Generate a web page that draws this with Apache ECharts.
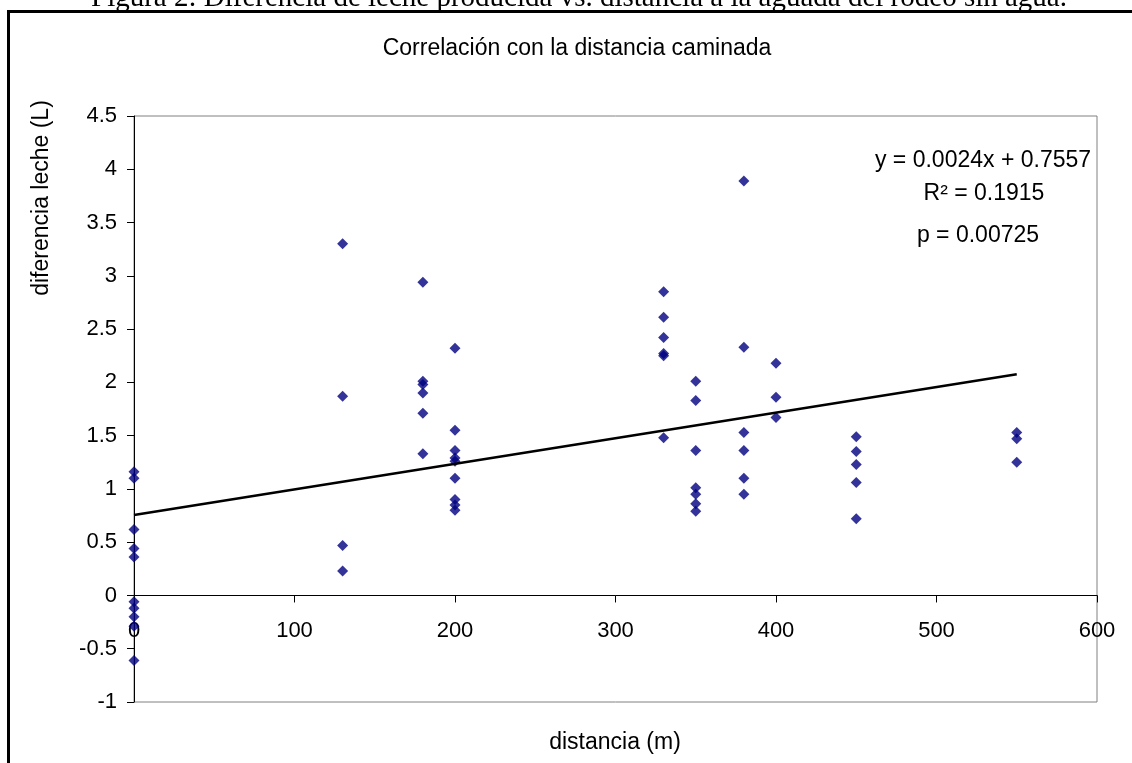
<!DOCTYPE html>
<html>
<head>
<meta charset="utf-8">
<script src="https://cdn.jsdelivr.net/npm/echarts@6/dist/echarts.min.js"></script>
<style>
html,body{margin:0;padding:0;background:#fff;}
#chart{width:1132px;height:763px;}
</style>
</head>
<body>
<div id="chart"></div>
<script>
// ---- data ----
const distancia = [
  0,0,0,0,0,0,0,0,0,0,
  130,130,130,130,
  180,180,180,180,180,180,
  200,200,200,200,200,200,200,200,200,
  330,330,330,330,330,330,
  350,350,350,350,350,350,350,
  380,380,380,380,380,380,
  400,400,400,
  450,450,450,450,450,
  550,550,550
];
const diferencia = [
  1.16,1.10,0.62,0.44,0.36,-0.06,-0.12,-0.20,-0.29,-0.61,
  3.30,1.87,0.47,0.23,
  2.94,2.01,1.98,1.90,1.71,1.33,
  2.32,1.55,1.36,1.29,1.26,1.10,0.90,0.85,0.80,
  2.85,2.61,2.42,2.27,2.25,1.48,
  2.01,1.83,1.36,1.01,0.95,0.86,0.79,
  3.89,2.33,1.53,1.36,1.10,0.95,
  2.18,1.86,1.67,
  1.49,1.35,1.23,1.06,0.72,
  1.53,1.47,1.25
];
const trendX = [0, 550];
const trendY = [0.7557, 2.0757];
const caption = "Figura 2: Diferencia de leche producida vs. distancia a la aguada del rodeo sin agua.";
const chartTitle = "Correlación con la distancia caminada";
const xTitle = "distancia (m)";
const yTitle = "diferencia leche (L)";
const eqLines = ["y = 0.0024x + 0.7557", "R\u00B2 = 0.1915", "p = 0.00725"];

const points = distancia.map((d, i) => [d, diferencia[i]]);
const trend = trendX.map((x, i) => [x, trendY[i]]);

const FONT = '"Liberation Sans", Arial, sans-serif';
const Y_MIN = -1, Y_MAX = 4.5;
const GRID = {left: 134, right: 35, top: 116, bottom: 61};
const plotH = 763 - GRID.top - GRID.bottom;
// move the x axis (line, ticks, labels) up to y = 0, as in the reference
const xOffset = -plotH * (0 - Y_MIN) / (Y_MAX - Y_MIN);

const chart = echarts.init(document.getElementById('chart'), null, {renderer: 'canvas'});
chart.setOption({
  animation: false,
  backgroundColor: '#ffffff',
  grid: Object.assign({
    show: true, borderColor: '#808080', borderWidth: 1, backgroundColor: 'transparent'
  }, GRID),
  xAxis: {
    type: 'value', min: 0, max: 600, interval: 100, position: 'bottom', offset: xOffset,
    axisLine: {show: true, onZero: false, lineStyle: {color: '#000', width: 1}},
    axisTick: {show: true, length: 7, lineStyle: {color: '#000'}},
    axisLabel: {color: '#000', fontFamily: FONT, fontSize: 22, margin: 24},
    splitLine: {show: false}
  },
  yAxis: {
    type: 'value', min: Y_MIN, max: Y_MAX, interval: 0.5,
    axisLine: {show: true, onZero: false, lineStyle: {color: '#000', width: 1}},
    axisTick: {show: true, length: 7, lineStyle: {color: '#000'}},
    axisLabel: {color: '#000', fontFamily: FONT, fontSize: 22, margin: 17},
    splitLine: {show: false}
  },
  series: [
    {
      type: 'scatter', data: points, symbol: 'diamond', symbolSize: [11, 11],
      itemStyle: {color: '#000080'}, z: 3
    },
    {
      type: 'line', data: trend, symbol: 'none',
      lineStyle: {color: '#000', width: 2.6}, z: 4
    }
  ],
  graphic: [
    {type: 'text', x: 579, y: -2, style: {text: caption, font: '29px "Liberation Serif", "Times New Roman", serif',
      fill: '#000', textAlign: 'center', textVerticalAlign: 'middle'}, z: 9},
    {type: 'rect', shape: {x: 8.5, y: 11.5, width: 1300, height: 900},
     style: {fill: 'none', stroke: '#000', lineWidth: 3}, z: 10},
    {type: 'text', x: 577, y: 49, style: {text: chartTitle, font: '23px ' + FONT,
      fill: '#000', textAlign: 'center', textVerticalAlign: 'middle'}},
    {type: 'text', x: 615, y: 743, style: {text: xTitle, font: '23px ' + FONT,
      fill: '#000', textAlign: 'center', textVerticalAlign: 'middle'}},
    {type: 'text', x: 42, y: 198, rotation: Math.PI / 2, style: {text: yTitle, font: '23px ' + FONT,
      fill: '#000', textAlign: 'center', textVerticalAlign: 'middle'}},
    {type: 'text', x: 983, y: 161, style: {text: eqLines[0], font: '23px ' + FONT,
      fill: '#000', textAlign: 'center', textVerticalAlign: 'middle'}},
    {type: 'text', x: 984, y: 194, style: {text: eqLines[1], font: '23px ' + FONT,
      fill: '#000', textAlign: 'center', textVerticalAlign: 'middle'}},
    {type: 'text', x: 978, y: 236, style: {text: eqLines[2], font: '23px ' + FONT,
      fill: '#000', textAlign: 'center', textVerticalAlign: 'middle'}}
  ]
});
</script>
</body>
</html>
